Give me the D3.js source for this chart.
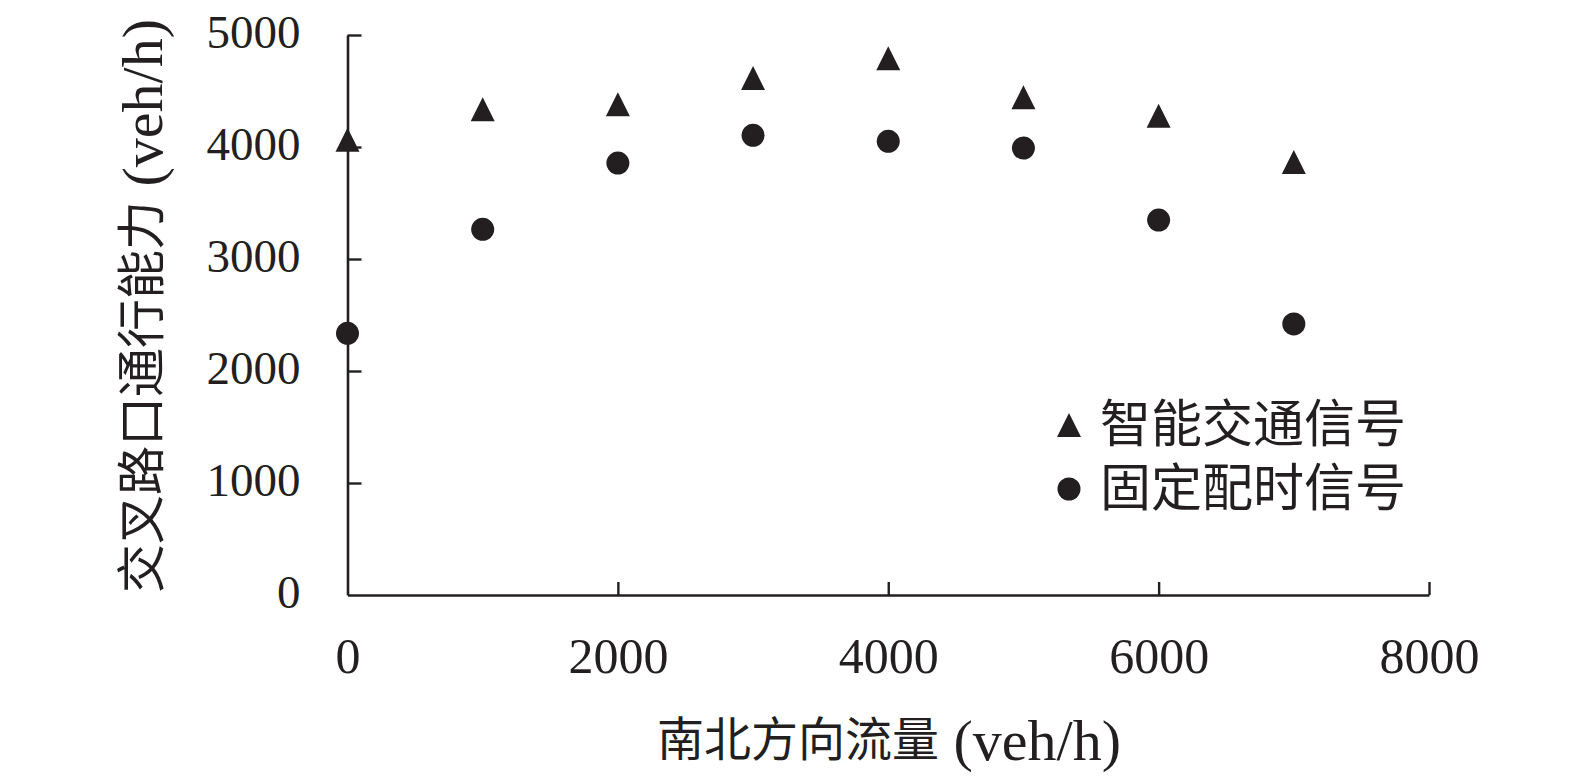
<!DOCTYPE html>
<html>
<head>
<meta charset="utf-8">
<script src="https://cdn.jsdelivr.net/npm/d3@7"></script>
<style>
  html, body { margin: 0; padding: 0; background: #ffffff; }
  svg { display: block; }
  text { font-family: "Liberation Serif", "Noto Sans CJK SC", serif; fill: #231f20; }
</style>
</head>
<body>
<svg id="chart" width="1575" height="776"></svg>
<script>
// ---- data ----
const flowNS = [0, 1000, 2000, 3000, 4000, 5000, 6000, 7000];
const smartSignal = [4065, 4337, 4381, 4616, 4793, 4444, 4278, 3866];
const fixedSignal = [2336, 3265, 3857, 4104, 4051, 3991, 3348, 2420];
const xTicks = [0, 2000, 4000, 6000, 8000];
const yTicks = [0, 1000, 2000, 3000, 4000, 5000];
const seriesNames = ["智能交通信号", "固定配时信号"];
const xTitleCJK = "南北方向流量", xTitleUnit = " (veh/h)";
const yTitleCJK = "交叉路口通行能力", yTitleUnit = " (veh/h)";

const ink = "#231f20";
const svg = d3.select("#chart");

const x = d3.scaleLinear().domain([0, 8000]).range([347.5, 1429]);
const y = d3.scaleLinear().domain([0, 5000]).range([595, 35]);

// x axis
const gx = svg.append("g").attr("transform", `translate(0,${y(0)})`)
  .call(d3.axisBottom(x).tickValues(xTicks).tickSize(-13).tickSizeOuter(0).tickPadding(0).tickFormat(d3.format("d")));
gx.select(".domain").attr("stroke", ink).attr("stroke-width", 2.6);
gx.selectAll(".tick line").attr("stroke", ink).attr("stroke-width", 2.4);
gx.selectAll(".tick").filter(d => d === 0).select("line").remove();
gx.selectAll(".tick text").attr("dy", null).attr("y", 78)
  .style("font-size", "50px").attr("fill", ink);

// y axis
const gy = svg.append("g").attr("transform", `translate(${x(0)},0)`)
  .call(d3.axisLeft(y).tickValues(yTicks).tickSize(-14).tickSizeOuter(0).tickPadding(47).tickFormat(d3.format("d")));
gy.select(".domain").attr("stroke", ink).attr("stroke-width", 2.6);
gy.selectAll(".tick line").attr("stroke", ink).attr("stroke-width", 2.4);
gy.selectAll(".tick").filter(d => d === 0).select("line").remove();
gy.selectAll(".tick text").attr("dy", "0.26em")
  .style("font-size", "47px").attr("fill", ink);
svg.selectAll(".tick text").style("font-family", '"Liberation Serif", serif');

// axis titles
const xt = svg.append("text").attr("x", 889).attr("y", 740)
  .attr("text-anchor", "middle").attr("dominant-baseline", "central");
xt.append("tspan").style("font-size", "47px").text(xTitleCJK);
xt.append("tspan").style("font-size", "58px").style("font-family", '"Liberation Serif", serif').text(xTitleUnit);

const yt = svg.append("text")
  .attr("transform", `translate(142,306) rotate(-90)`)
  .attr("text-anchor", "middle").attr("dominant-baseline", "central");
yt.append("tspan").style("font-size", "49px").text(yTitleCJK);
yt.append("tspan").style("font-size", "58px").style("font-family", '"Liberation Serif", serif').text(yTitleUnit);

// custom triangle symbol (24 wide x 24 tall, centred on bounding box)
const tallTriangle = {
  draw(ctx, size) {
    const h = Math.sqrt(size);
    ctx.moveTo(0, -h / 2);
    ctx.lineTo(h / 2, h / 2);
    ctx.lineTo(-h / 2, h / 2);
    ctx.closePath();
  }
};
const triPath = d3.symbol().type(tallTriangle).size(24 * 24)();
const circPath = d3.symbol().type(d3.symbolCircle).size(Math.PI * 11.5 * 11.5)();

const triData = flowNS.map((f, i) => ({ f, v: smartSignal[i] }));
const circData = flowNS.map((f, i) => ({ f, v: fixedSignal[i] }));

svg.append("g").selectAll("path").data(triData).join("path")
  .attr("d", triPath).attr("fill", ink)
  .attr("transform", d => `translate(${x(d.f)},${y(d.v)})`);
svg.append("g").selectAll("path").data(circData).join("path")
  .attr("d", circPath).attr("fill", ink)
  .attr("transform", d => `translate(${x(d.f)},${y(d.v)})`);

// legend
const legend = svg.append("g").attr("transform", "translate(1069,425)");
const items = [{ name: seriesNames[0], path: triPath, dy: 0 }, { name: seriesNames[1], path: circPath, dy: 64 }];
items.forEach(it => {
  legend.append("path").attr("d", it.path).attr("fill", ink).attr("transform", `translate(0,${it.dy})`);
  legend.append("text").attr("x", 31).attr("y", it.dy).attr("dominant-baseline", "central")
    .style("font-size", "51px").text(it.name);
});
</script>
</body>
</html>
